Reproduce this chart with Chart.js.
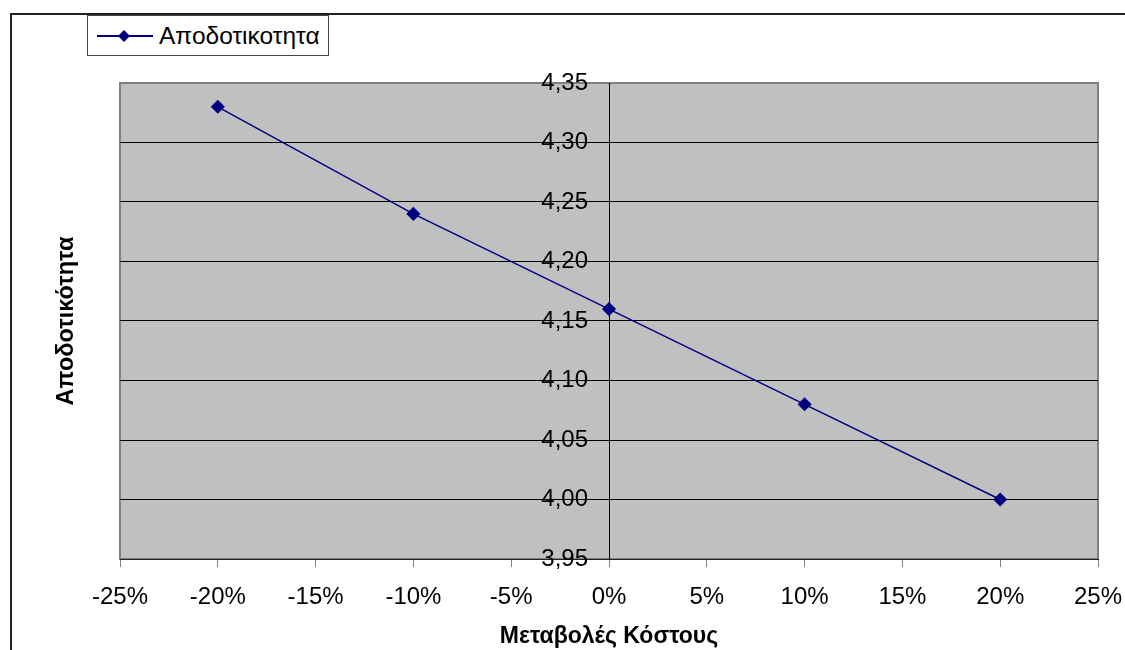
<!DOCTYPE html>
<html>
<head>
<meta charset="utf-8">
<script src="https://cdn.jsdelivr.net/npm/chart.js@4"></script>
<style>
    body { margin: 0; background: #fff; font-family: "Liberation Sans", Arial, sans-serif; }
    #wrap { position: relative; width: 1125px; height: 650px; }
    #legend {
        position: absolute; left: 87px; top: 15px; width: 240px; height: 39px;
        border: 1px solid #444; background: #fff;
        display: flex; align-items: center; font-size: 24.5px; color: #000;
    }
    #legend svg { margin-left: 9px; margin-right: 5px; }
</style>
</head>
<body>
<div id="wrap">
    <canvas id="effChart" width="1125" height="650"></canvas>
    <div id="legend">
        <svg width="57" height="20"><line x1="0" y1="10" x2="56" y2="10" stroke="#000080" stroke-width="2"/><path d="M27 4 L33 10 L27 16 L21 10 Z" fill="#000080"/></svg>
        <span>Αποδοτικοτητα</span>
    </div>
</div>
<script>
const changes = [-0.20, -0.10, 0, 0.10, 0.20];
const efficiency = [4.33, 4.24, 4.16, 4.08, 4.00];
const xTicks = [-0.25, -0.20, -0.15, -0.10, -0.05, 0, 0.05, 0.10, 0.15, 0.20, 0.25];
const yTicks = [3.95, 4.00, 4.05, 4.10, 4.15, 4.20, 4.25, 4.30, 4.35];

const plotBg = {
    id: 'plotBg',
    beforeDraw(chart) {
        const { ctx, chartArea: a } = chart;
        ctx.save();
        // outer frame
        ctx.strokeStyle = '#222';
        ctx.lineWidth = 2;
        ctx.beginPath();
        ctx.moveTo(11, 650);
        ctx.lineTo(11, 14);
        ctx.lineTo(1125, 14);
        ctx.stroke();
        // plot area
        ctx.fillStyle = '#C0C0C0';
        ctx.fillRect(a.left, a.top, a.right - a.left, a.bottom - a.top);
        ctx.strokeStyle = '#808080';
        ctx.lineWidth = 2;
        ctx.strokeRect(a.left, a.top, a.right - a.left, a.bottom - a.top);
        ctx.restore();
    }
};

const ctx = document.getElementById('effChart').getContext('2d');

const effChart = new Chart(ctx, {
    type: 'scatter',
    data: {
        datasets: [{
            label: 'Αποδοτικοτητα',
            data: changes.map((c, i) => ({ x: c, y: efficiency[i] })),
            showLine: true,
            borderColor: '#000080',
            borderWidth: 1.5,
            pointStyle: 'rectRot',
            pointRadius: 6,
            pointBackgroundColor: '#000080',
            pointBorderColor: '#000080',
        }]
    },
    options: {
        responsive: false,
        animation: false,
        layout: { padding: { top: 83, right: 27, left: 52, bottom: 0 } },
        font: { family: '"Liberation Sans", Arial, sans-serif' },
        scales: {
            x: {
                type: 'linear',
                position: 'bottom',
                min: -0.25,
                max: 0.25,
                afterBuildTicks: function (scale) {
                    scale.ticks = xTicks.map(v => ({ value: v }));
                },
                afterFit: function (scale) {
                    scale.height = 91;
                    scale.paddingLeft = 0;
                    scale.paddingRight = 0;
                },
                grid: {
                    drawOnChartArea: false,
                    color: '#808080',
                    tickLength: 8,
                },
                border: { display: true, color: '#222', width: 1 },
                ticks: {
                    color: '#000',
                    font: { size: 24, family: '"Liberation Sans", Arial, sans-serif' },
                    padding: 16,
                    maxRotation: 0,
                    callback: function (value) {
                        return Math.round(value * 100) + '%';
                    }
                },
                title: {
                    display: true,
                    text: 'Μεταβολές Κόστους',
                    color: '#000',
                    font: { size: 23, weight: 'bold', family: '"Liberation Sans", Arial, sans-serif' },
                    padding: { top: 0, bottom: 0 }
                }
            },
            y: {
                type: 'linear',
                position: 'center',
                min: 3.95,
                max: 4.35,
                afterBuildTicks: function (scale) {
                    scale.ticks = yTicks.map(v => ({ value: v }));
                },
                grid: {
                    color: function (context) {
                        if (context.tick && Math.abs(context.tick.value - 4.35) < 1e-6) {
                            return '#808080';
                        }
                        return '#000';
                    },
                    lineWidth: 1,
                    tickLength: 8,
                },
                border: { display: true, color: '#000', width: 1 },
                ticks: {
                    color: '#000',
                    font: { size: 24, family: '"Liberation Sans", Arial, sans-serif' },
                    padding: 13,
                    callback: function (value) {
                        return value.toFixed(2).replace('.', ',');
                    }
                }
            },
            yTitle: {
                type: 'linear',
                position: 'left',
                min: 3.95,
                max: 4.35,
                afterFit: function (scale) {
                    scale.width = 68;
                },
                grid: { display: false },
                border: { display: false },
                ticks: { display: false },
                title: {
                    display: true,
                    text: 'Αποδοτικότητα',
                    color: '#000',
                    font: { size: 23.5, weight: 'bold', family: '"Liberation Sans", Arial, sans-serif' },
                    padding: 0
                }
            }
        },
        plugins: {
            legend: { display: false },
            tooltip: { enabled: false },
        },
    },
    plugins: [plotBg]
});
</script>
</body>
</html>
